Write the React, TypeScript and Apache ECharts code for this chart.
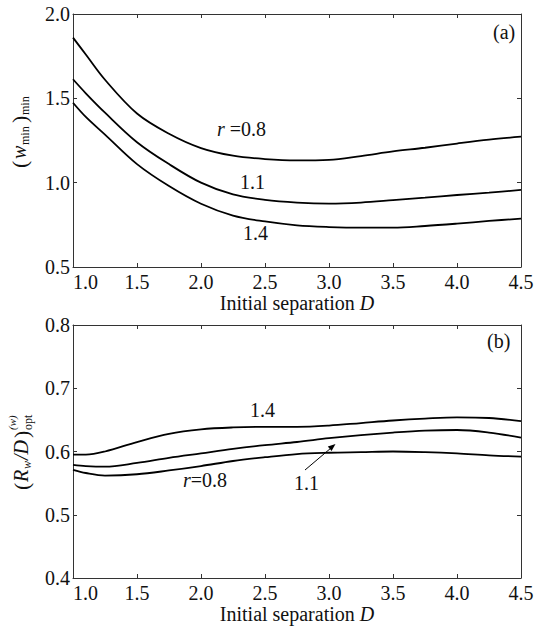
import React, { useEffect, useRef } from "react";
import * as echarts from "echarts";

// Initial separation D (x values)
const D = [1.0, 1.1, 1.25, 1.5, 1.75, 2.0, 2.25, 2.5, 2.75, 3.0, 3.25, 3.5, 3.75, 4.0, 4.25, 4.5];

// Panel (a): (w_min)_min
const wMinR08 = [1.86, 1.76, 1.61, 1.41, 1.29, 1.205, 1.16, 1.14, 1.132, 1.135, 1.158, 1.185, 1.207, 1.232, 1.255, 1.273];
const wMinR11 = [1.613, 1.53, 1.415, 1.24, 1.11, 1.0, 0.93, 0.898, 0.882, 0.876, 0.882, 0.896, 0.911, 0.927, 0.941, 0.957];
const wMinR14 = [1.474, 1.39, 1.285, 1.11, 0.98, 0.875, 0.805, 0.77, 0.747, 0.737, 0.733, 0.733, 0.743, 0.757, 0.773, 0.787];

// Panel (b): (R_w/D)_opt
const rOptR14 = [0.595, 0.595, 0.6, 0.615, 0.628, 0.635, 0.638, 0.639, 0.639, 0.641, 0.645, 0.649, 0.652, 0.654, 0.653, 0.648];
const rOptR11 = [0.579, 0.577, 0.576, 0.582, 0.59, 0.597, 0.604, 0.61, 0.615, 0.621, 0.626, 0.63, 0.633, 0.634, 0.63, 0.622];
const rOptR08 = [0.571, 0.566, 0.562, 0.564, 0.57, 0.577, 0.585, 0.591, 0.596, 0.598, 0.599, 0.6, 0.599, 0.597, 0.594, 0.592];

const FONT = '"Liberation Serif", "Times New Roman", serif';
const INK = "#111";
const FRAME = "#333";

const pairs = (ys: number[]) => D.map((d, i) => [d, ys[i]]);

function line(data: number[], xi: number, yi: number) {
  return {
    type: "line",
    xAxisIndex: xi,
    yAxisIndex: yi,
    data: pairs(data),
    showSymbol: false,
    smooth: 0.35,
    lineStyle: { color: "#000", width: 1.8 },
    silent: true,
  };
}

function xAxes(grid: number) {
  const base = {
    gridIndex: grid,
    type: "value",
    min: 1,
    max: 4.5,
    interval: 0.5,
    splitLine: { show: false },
    axisLine: { show: true, onZero: false, lineStyle: { color: FRAME, width: 1 } },
    axisTick: { show: true, inside: true, length: 4, lineStyle: { color: FRAME } },
  };
  return [
    {
      ...base,
      position: "bottom",
      axisLabel: {
        margin: 5,
        fontSize: 20,
        lineHeight: 20,
        fontFamily: FONT,
        color: INK,
        alignMinLabel: "left",
        formatter: (v: number) => v.toFixed(1),
      },
      name: "{n|Initial separation }{i|D}",
      nameLocation: "middle",
      nameGap: 24,
      nameTextStyle: {
        rich: {
          n: { fontSize: 20, fontFamily: FONT, color: INK, lineHeight: 20 },
          i: { fontSize: 20, fontFamily: FONT, color: INK, fontStyle: "italic", lineHeight: 20 },
        },
      },
    },
    { ...base, position: "top", axisLabel: { show: false } },
  ];
}

function yAxes(grid: number, min: number, max: number, interval: number) {
  const base = {
    gridIndex: grid,
    type: "value",
    min,
    max,
    interval,
    splitLine: { show: false },
    axisLine: { show: true, onZero: false, lineStyle: { color: FRAME, width: 1 } },
    axisTick: { show: true, inside: true, length: 4, lineStyle: { color: FRAME } },
  };
  return [
    {
      ...base,
      position: "left",
      axisLabel: {
        margin: 3,
        fontSize: 20,
        lineHeight: 20,
        fontFamily: FONT,
        color: INK,
        formatter: (v: number) => v.toFixed(1),
      },
    },
    { ...base, position: "right", axisLabel: { show: false } },
  ];
}

function txt(text: string, x: number, y: number, extra: any = {}) {
  return {
    type: "text",
    x,
    y,
    silent: true,
    style: {
      text,
      font: `20px ${FONT}`,
      fill: INK,
      textAlign: "left",
      textVerticalAlign: "middle",
      ...extra,
    },
  };
}

function t(text: string, x: number, y: number, size: number, italic = false) {
  return {
    type: "text",
    x,
    y,
    silent: true,
    style: {
      text,
      font: `${italic ? "italic " : ""}${size}px ${FONT}`,
      fill: INK,
      textAlign: "left",
      textVerticalAlign: "middle",
    },
  };
}

export default function App() {
  const ref = useRef<HTMLDivElement>(null);

  useEffect(() => {
    if (!ref.current) return;
    const chart = echarts.init(ref.current, undefined, { renderer: "svg" });

    const italicRich = { i: { fontStyle: "italic", fontSize: 20, fontFamily: FONT, color: INK } };

    const option: any = {
      animation: false,
      backgroundColor: "#fff",
      grid: [
        { left: 73, top: 14, width: 448, height: 253 },
        { left: 73, top: 325, width: 448, height: 253 },
      ],
      xAxis: [...xAxes(0), ...xAxes(1)],
      yAxis: [...yAxes(0, 0.5, 2.0, 0.5), ...yAxes(1, 0.4, 0.8, 0.1)],
      series: [
        line(wMinR08, 0, 0),
        line(wMinR11, 0, 0),
        line(wMinR14, 0, 0),
        line(rOptR14, 2, 2),
        line(rOptR11, 2, 2),
        line(rOptR08, 2, 2),
      ],
      graphic: [
        // panel (a) annotations
        txt("{i|r} =0.8", 217, 129, { rich: italicRich }),
        txt("1.1", 240, 182),
        txt("1.4", 243, 233),
        txt("(a)", 493, 32),
        // panel (b) annotations
        txt("1.4", 250, 410),
        txt("{i|r}=0.8", 183, 480, { rich: italicRich }),
        txt("1.1", 294, 483),
        txt("(b)", 487, 341),
        {
          type: "line",
          silent: true,
          shape: { x1: 305, y1: 470, x2: 331, y2: 448 },
          style: { stroke: "#000", lineWidth: 1 },
        },
        {
          type: "polygon",
          silent: true,
          shape: { points: [[335.5, 444], [331.6, 451], [327.8, 446.4]] },
          style: { fill: "#000" },
        },
        // y-axis title (a)
        {
          type: "group",
          x: 19,
          y: 131,
          rotation: Math.PI / 2,
          children: [
            t("(", -37, 0, 22),
            t("w", -28, 0, 20, true),
            t("min", -14, 6, 12),
            t(")", 8, 0, 22),
            t("min", 16, 6, 12),
          ],
        },
        // y-axis title (b)
        {
          type: "group",
          x: 21,
          y: 450,
          rotation: Math.PI / 2,
          children: [
            t("(", -40, 0, 22),
            t("R", -32, 0, 20, true),
            t("w", -19, 6, 12, true),
            t("/D", -10, 0, 20, true),
            t(")", 12, 0, 22),
            t("opt", 20, 7, 12),
            t("(w)", 20, -9, 11, true),
          ],
        },
      ],
    };

    chart.setOption(option);
    return () => chart.dispose();
  }, []);

  return (
    <div
      ref={ref}
      style={{ position: "fixed", left: 0, top: 0, width: 537, height: 626, background: "#fff" }}
    />
  );
}
